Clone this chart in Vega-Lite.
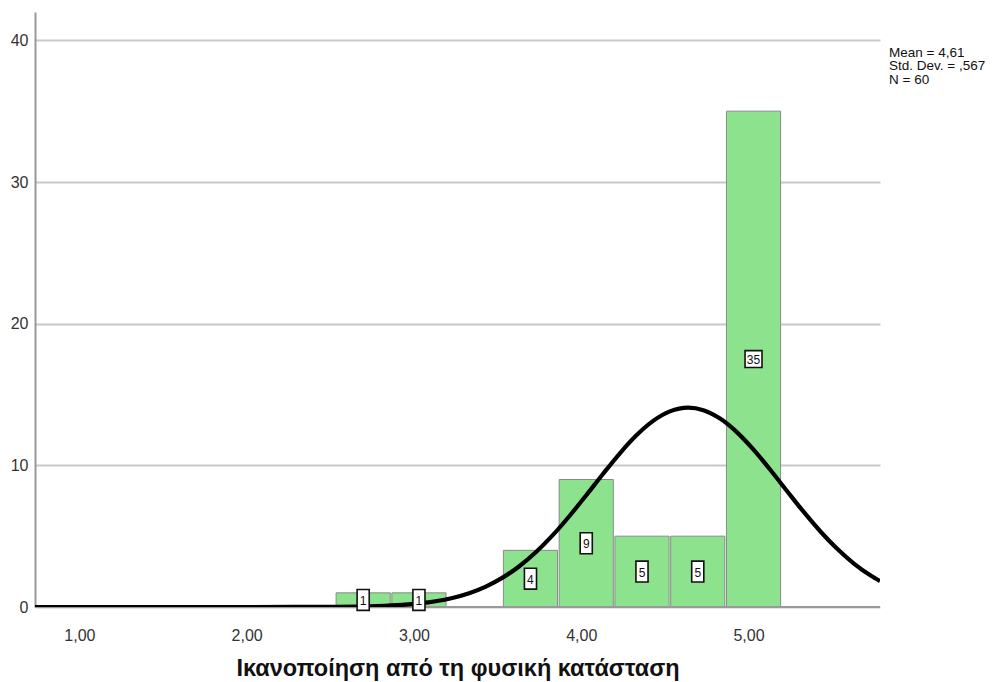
{
  "$schema": "https://vega.github.io/schema/vega-lite/v6.json",
  "width": 845,
  "height": 595,
  "autosize": {"type": "none"},
  "padding": {"left": 35, "top": 12, "right": 123, "bottom": 75},
  "background": "white",
  "config": {
    "view": {"stroke": null},
    "font": "Liberation Sans",
    "axis": {"labelFont": "Liberation Sans", "titleFont": "Liberation Sans"}
  },
  "datasets": {
    "bins": [
      {"bin_start": 2.5, "bin_end": 2.8333, "count": 1},
      {"bin_start": 2.8333, "bin_end": 3.1667, "count": 1},
      {"bin_start": 3.5, "bin_end": 3.8333, "count": 4},
      {"bin_start": 3.8333, "bin_end": 4.1667, "count": 9},
      {"bin_start": 4.1667, "bin_end": 4.5, "count": 5},
      {"bin_start": 4.5, "bin_end": 4.8333, "count": 5},
      {"bin_start": 4.8333, "bin_end": 5.1667, "count": 35}
    ],
    "curve": [
      {"x": 0.705, "y": 0.0},
      {"x": 1.5, "y": 0.0},
      {"x": 2.0, "y": 0.0003},
      {"x": 2.25, "y": 0.0025},
      {"x": 2.5, "y": 0.0138},
      {"x": 2.75, "y": 0.0649},
      {"x": 2.9, "y": 0.148},
      {"x": 3.0, "y": 0.250},
      {"x": 3.1, "y": 0.406},
      {"x": 3.2, "y": 0.639},
      {"x": 3.3, "y": 0.975},
      {"x": 3.4, "y": 1.443},
      {"x": 3.5, "y": 2.071},
      {"x": 3.6, "y": 2.879},
      {"x": 3.7, "y": 3.881},
      {"x": 3.8, "y": 5.072},
      {"x": 3.9, "y": 6.424},
      {"x": 4.0, "y": 7.888},
      {"x": 4.1, "y": 9.389},
      {"x": 4.2, "y": 10.833},
      {"x": 4.3, "y": 12.117},
      {"x": 4.4, "y": 13.137},
      {"x": 4.5, "y": 13.808},
      {"x": 4.61, "y": 14.07},
      {"x": 4.7, "y": 13.894},
      {"x": 4.8, "y": 13.302},
      {"x": 4.9, "y": 12.345},
      {"x": 5.0, "y": 11.106},
      {"x": 5.1, "y": 9.685},
      {"x": 5.2, "y": 8.188},
      {"x": 5.3, "y": 6.710},
      {"x": 5.4, "y": 5.331},
      {"x": 5.5, "y": 4.105},
      {"x": 5.6, "y": 3.064},
      {"x": 5.7, "y": 2.217},
      {"x": 5.756, "y": 1.83}
    ],
    "stats": [
      {"line": "Mean = 4,61", "order": 0},
      {"line": "Std. Dev. = ,567", "order": 1},
      {"line": "N = 60", "order": 2}
    ]
  },
  "layer": [
    {
      "data": {"name": "bins"},
      "mark": {"type": "rect", "fill": "#8de28d", "stroke": "#8a8a8a", "strokeWidth": 1, "xOffset": 0.8, "x2Offset": -0.8},
      "encoding": {
        "x": {
          "field": "bin_start", "type": "quantitative",
          "scale": {"domain": [0.705, 5.756], "nice": false, "zero": false},
          "axis": {
            "values": [1, 2, 3, 4, 5],
            "labelExpr": "replace(format(datum.value, '.2f'), '.', ',')",
            "ticks": false,
            "domain": false,
            "grid": false,
            "labelFontSize": 16,
            "labelColor": "#333333",
            "labelPadding": 20,
            "labelOffset": -5,
            "title": "Ικανοποίηση από τη φυσική κατάσταση",
            "titleFontSize": 23.5,
            "titleFontWeight": "bold",
            "titleColor": "#111111",
            "titlePadding": 13
          }
        },
        "x2": {"field": "bin_end"},
        "y": {
          "field": "count", "type": "quantitative",
          "scale": {"domain": [0, 42], "nice": false},
          "axis": {
            "values": [0, 10, 20, 30, 40],
            "ticks": false,
            "domainColor": "#999999",
            "domainWidth": 2,
            "gridColor": "#c8c8c8",
            "gridWidth": 1.8,
            "labelFontSize": 16,
            "labelColor": "#333333",
            "labelPadding": 7,
            "title": null
          }
        },
        "y2": {"datum": 0}
      }
    },
    {
      "data": {"values": [{"a": 0.705, "b": 5.756}]},
      "mark": {"type": "rule", "stroke": "#999999", "strokeWidth": 2},
      "encoding": {
        "x": {"field": "a", "type": "quantitative"},
        "x2": {"field": "b"},
        "y": {"datum": 0}
      }
    },
    {
      "data": {"name": "curve"},
      "mark": {"type": "line", "stroke": "black", "strokeWidth": 4.2, "interpolate": "monotone", "clip": true},
      "encoding": {
        "x": {"field": "x", "type": "quantitative"},
        "y": {"field": "y", "type": "quantitative"}
      }
    },
    {
      "data": {"name": "bins"},
      "transform": [
        {"calculate": "(datum.bin_start + datum.bin_end) / 2", "as": "mid"},
        {"calculate": "datum.count / 2", "as": "half"}
      ],
      "mark": {"type": "point", "filled": true, "fill": "white", "stroke": "#111111", "strokeWidth": 1.6, "opacity": 1, "size": 484},
      "encoding": {
        "x": {"field": "mid", "type": "quantitative"},
        "y": {"field": "half", "type": "quantitative"},
        "shape": {
          "condition": {"test": "datum.count >= 10", "value": "M-0.77,-0.77L0.77,-0.77L0.77,0.77L-0.77,0.77Z"},
          "value": "M-0.55,-0.95L0.55,-0.95L0.55,0.95L-0.55,0.95Z"
        }
      }
    },
    {
      "data": {"name": "bins"},
      "transform": [
        {"calculate": "(datum.bin_start + datum.bin_end) / 2", "as": "mid"},
        {"calculate": "datum.count / 2", "as": "half"}
      ],
      "mark": {"type": "text", "fontSize": 12, "color": "#111111", "align": "center", "baseline": "middle", "dy": 1},
      "encoding": {
        "x": {"field": "mid", "type": "quantitative"},
        "y": {"field": "half", "type": "quantitative"},
        "text": {"field": "count", "type": "quantitative"}
      }
    },
    {
      "data": {"name": "stats"},
      "mark": {"type": "text", "fontSize": 13.5, "color": "#111111", "align": "left", "baseline": "alphabetic", "clip": false},
      "encoding": {
        "x": {"datum": 5.81, "type": "quantitative"},
        "y": {"datum": 38.84, "type": "quantitative"},
        "yOffset": {"field": "order", "type": "quantitative", "scale": {"domain": [0, 1], "range": [0, 13.5]}},
        "text": {"field": "line"}
      }
    }
  ]
}
